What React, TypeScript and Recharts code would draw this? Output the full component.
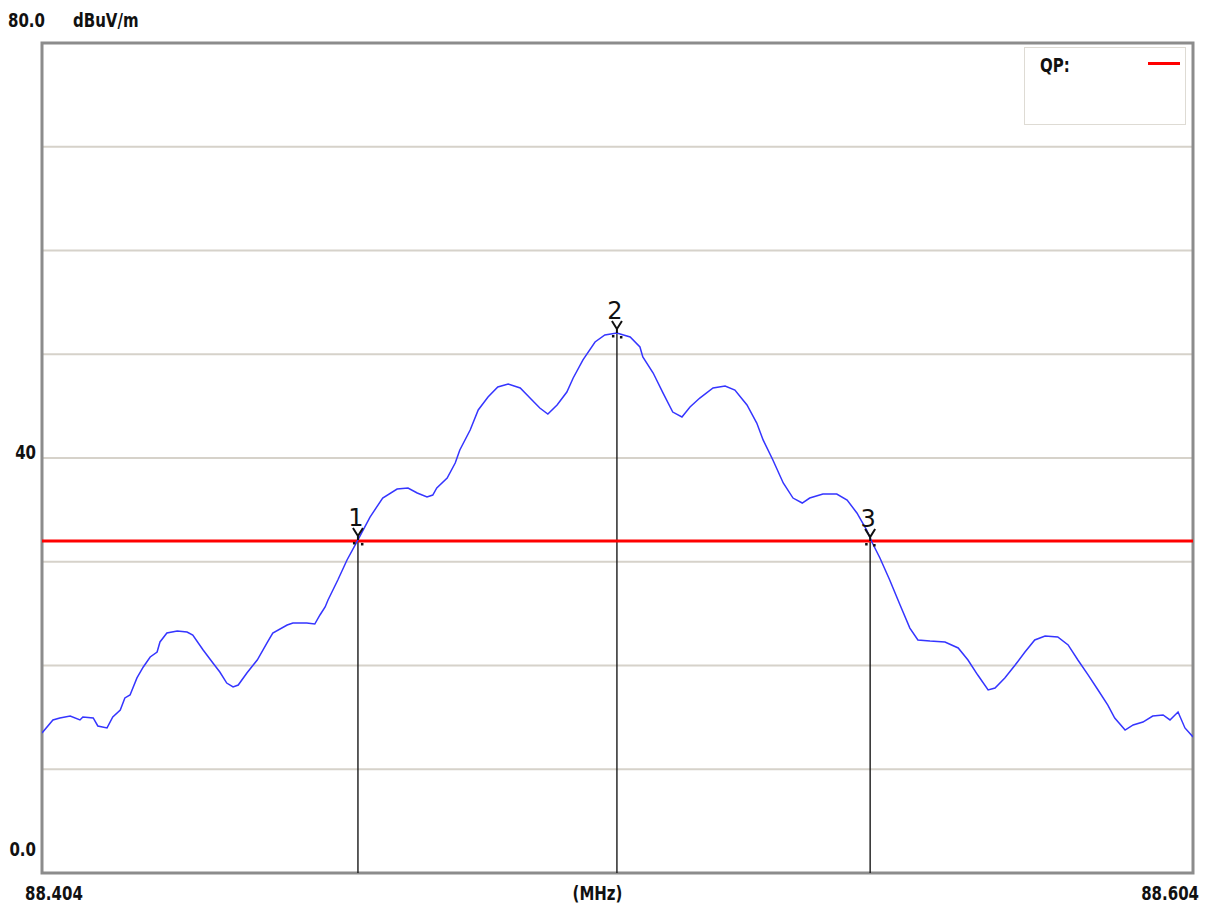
import React from 'react'
import {
  ComposedChart,
  Line,
  Scatter,
  XAxis,
  YAxis,
  CartesianGrid,
  ReferenceLine,
  ReferenceArea,
} from 'recharts'

// frequency (MHz) and QP level (dBuV/m)
const freq = [
  88.404, 88.4059, 88.4071, 88.4089, 88.4106, 88.4111, 88.4129, 88.4137, 88.4153, 88.4163,
  88.4176, 88.4184, 88.4193, 88.4205, 88.4216, 88.4228, 88.424, 88.4245, 88.4257, 88.4275,
  88.4292, 88.4302, 88.432, 88.4337, 88.4349, 88.4361, 88.4372, 88.4381, 88.4396, 88.4414,
  88.4431, 88.4441, 88.4466, 88.4476, 88.45, 88.4514, 88.4523, 88.4532, 88.4537, 88.4554,
  88.457, 88.4589, 88.461, 88.4632, 88.4657, 88.4676, 88.4692, 88.4709, 88.4719, 88.4726,
  88.4744, 88.4758, 88.4766, 88.4784, 88.4798, 88.4815, 88.4832, 88.485, 88.4871, 88.4888,
  88.4905, 88.4919, 88.4935, 88.4952, 88.4963, 88.498, 88.5001, 88.5018, 88.5039, 88.5062,
  88.5079, 88.5084, 88.5102, 88.5119, 88.5136, 88.5152, 88.5166, 88.5183, 88.5206, 88.5227,
  88.5244, 88.5265, 88.5282, 88.5293, 88.531, 88.5328, 88.5345, 88.5361, 88.5374, 88.5397,
  88.5421, 88.5439, 88.5456, 88.5473, 88.5482, 88.5496, 88.5513, 88.5531, 88.5548, 88.5562,
  88.5583, 88.5609, 88.5632, 88.5649, 88.5666, 88.5684, 88.5696, 88.5713, 88.5731, 88.5748,
  88.5765, 88.5783, 88.5805, 88.5823, 88.584, 88.5858, 88.5875, 88.5892, 88.5904, 88.5922,
  88.5936, 88.5953, 88.597, 88.5988, 88.6, 88.6014, 88.6026, 88.604,
]

const level = [
  13.49, 14.75, 14.94, 15.13, 14.75, 15.04, 14.94, 14.17, 13.98, 15.04,
  15.71, 16.87, 17.16, 18.8, 19.86, 20.82, 21.3, 22.27, 23.13, 23.33,
  23.23, 22.94, 21.49, 20.24, 19.37, 18.31, 17.93, 18.12, 19.28, 20.53,
  22.17, 23.13, 23.9, 24.1, 24.1, 24.0, 24.87, 25.64, 26.31, 28.24,
  30.17, 32.1, 34.31, 36.14, 37.01, 37.11, 36.63, 36.24, 36.43, 37.11,
  38.07, 39.52, 40.77, 42.7, 44.63, 45.88, 46.84, 47.13, 46.75, 45.78,
  44.82, 44.24, 45.11, 46.36, 47.71, 49.45, 51.18, 51.86, 52.05, 51.66,
  50.7, 49.74, 48.19, 46.27, 44.43, 43.95, 44.92, 45.78, 46.75, 46.94,
  46.55, 45.11, 43.37, 41.74, 39.81, 37.59, 36.14, 35.66, 36.14, 36.53,
  36.53, 35.95, 34.7, 33.06, 31.9, 30.36, 28.24, 25.83, 23.61, 22.46,
  22.36, 22.27, 21.69, 20.53, 19.08, 17.64, 17.83, 18.8, 20.05, 21.3,
  22.46, 22.84, 22.75, 21.98, 20.53, 19.08, 17.64, 16.19, 14.94, 13.78,
  14.27, 14.55, 15.13, 15.23, 14.75, 15.52, 13.98, 13.11,
]

const markerFreq = [88.4589, 88.5039, 88.5479]
const markerLevel = [32.1, 52.05, 32.0]
const markerLabel = ['1', '2', '3']

const qpLimit = 32
const yTicks = [0, 10, 20, 30, 40, 50, 60, 70, 80]
const xTicks = [88.404, 88.504, 88.604]

const FONT = "'DejaVu Sans', sans-serif"

const trace = freq.map((f, i) => ({ f, v: level[i] }))
const markers = markerFreq.map((f, i) => ({ f, v: markerLevel[i], label: markerLabel[i] }))

// bold condensed-looking label: 15px glyphs stretched vertically
function Lbl({ x, y, anchor = 'start', children }: any) {
  return (
    <text
      transform={`translate(${x},${y}) scale(1,1.25)`}
      textAnchor={anchor}
      fontFamily={FONT}
      fontWeight="bold"
      fontSize={15}
      fill="#111"
    >
      {children}
    </text>
  )
}

function YTick({ payload }: any) {
  const v = payload.value
  if (v === 80) {
    return (
      <g>
        <Lbl x={8} y={27}>80.0</Lbl>
        <Lbl x={73} y={27}>dBuV/m</Lbl>
      </g>
    )
  }
  if (v === 40) return <Lbl x={36} y={459} anchor="end">40</Lbl>
  if (v === 0) return <Lbl x={36} y={856} anchor="end">0.0</Lbl>
  return null
}

function XTick({ x, payload }: any) {
  const v = payload.value
  if (v === xTicks[0]) return <Lbl x={x - 17} y={900}>88.404</Lbl>
  if (v === xTicks[2]) return <Lbl x={x + 10} y={900} anchor="end">88.604</Lbl>
  return <Lbl x={x - 20} y={900} anchor="middle">(MHz)</Lbl>
}

function MarkerShape({ cx, cy, payload }: any) {
  return (
    <g>
      <path
        d={`M${cx - 5},${cy - 12} L${cx},${cy - 4} L${cx + 5},${cy - 12} M${cx},${cy - 4} L${cx},${cy}`}
        stroke="#111"
        strokeWidth={2}
        fill="none"
      />
      <rect x={cx - 5} y={cy + 2} width={2.5} height={2.5} fill="#111" />
      <rect x={cx + 3} y={cy + 3} width={2.5} height={2.5} fill="#111" />
      <text
        x={cx - 2}
        y={cy - 14}
        textAnchor="middle"
        fontFamily={FONT}
        fontSize={24}
        fill="#111"
      >
        {payload.label}
      </text>
    </g>
  )
}

export default function App() {
  return (
    <div style={{ position: 'absolute', left: 0, top: 0, width: 1211, height: 909, background: '#fff' }}>
      <ComposedChart
        width={1211}
        height={909}
        margin={{ top: 43, right: 18, left: 0, bottom: 0 }}
      >
        <CartesianGrid vertical={false} stroke="#d6d2ca" strokeWidth={2} />
        <XAxis
          type="number"
          dataKey="f"
          domain={[88.404, 88.604]}
          ticks={xTicks}
          height={36}
          axisLine={false}
          tickLine={false}
          tick={<XTick />}
          allowDataOverflow
        />
        <YAxis
          type="number"
          dataKey="v"
          domain={[0, 80]}
          ticks={yTicks}
          width={42}
          axisLine={false}
          tickLine={false}
          tick={<YTick />}
          interval={0}
        />
        {markers.map((m) => (
          <ReferenceLine
            key={m.label}
            segment={[{ x: m.f, y: 0 }, { x: m.f, y: m.v }]}
            stroke="#1a1a1a"
            strokeWidth={1.4}
          />
        ))}
        <ReferenceLine y={qpLimit} stroke="#ff0000" strokeWidth={3} />
        <Line
          data={trace}
          dataKey="v"
          type="linear"
          stroke="#3535ff"
          strokeWidth={1.5}
          dot={false}
          isAnimationActive={false}
        />
        <Scatter data={markers} dataKey="v" shape={<MarkerShape />} isAnimationActive={false} />
        <ReferenceArea
          x1={88.404}
          x2={88.604}
          y1={0}
          y2={80}
          fill="none"
          stroke="#8c8c8c"
          strokeWidth={3}
        />
      </ComposedChart>
      <div
        style={{
          position: 'absolute',
          left: 1024,
          top: 47,
          width: 160,
          height: 76,
          border: '1px solid #dedbd4',
          background: '#fff',
        }}
      >
        <svg width={40} height={30} style={{ position: 'absolute', left: 15, top: 2 }}>
          <Lbl x={0} y={22}>QP:</Lbl>
        </svg>
        <span
          style={{
            position: 'absolute',
            left: 123,
            top: 14,
            width: 32,
            height: 3,
            background: '#ff0000',
          }}
        />
      </div>
    </div>
  )
}
